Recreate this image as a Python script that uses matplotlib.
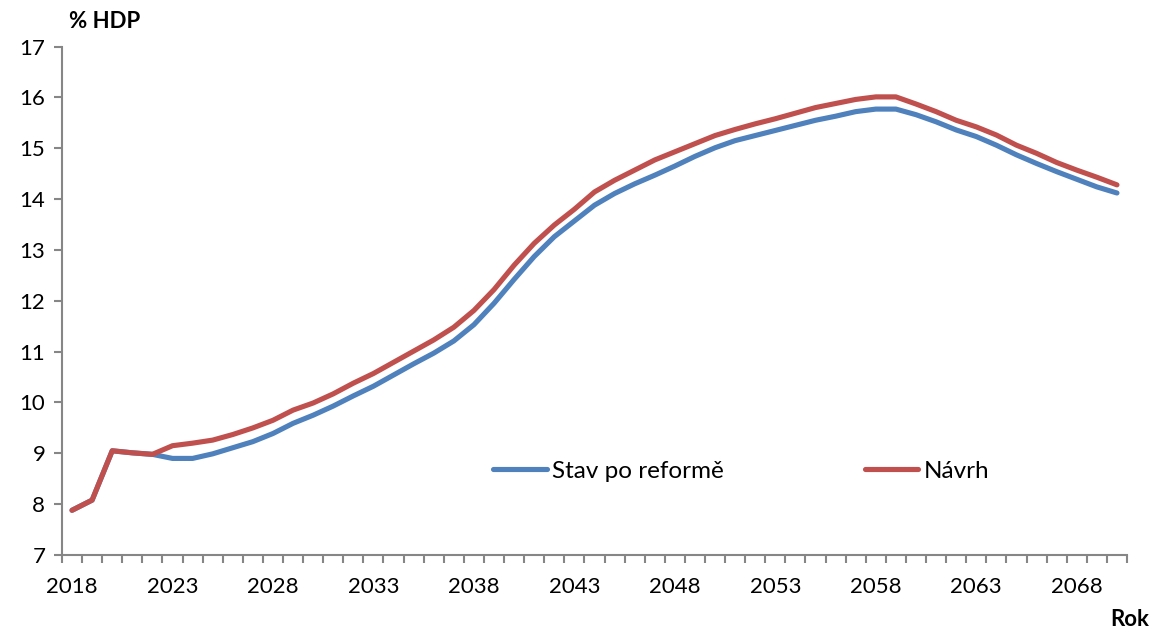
import numpy as np
import matplotlib.pyplot as plt

plt.rcParams['font.family'] = ['Lato', 'DejaVu Sans']

years = np.arange(2018, 2071)

# Stav po reformě (blue)
stav = [7.88, 8.08, 9.05, 9.01, 8.98, 8.90, 8.90, 8.99, 9.11, 9.23,
        9.39, 9.59, 9.75, 9.93, 10.13, 10.32, 10.54, 10.76, 10.97, 11.21,
        11.53, 11.95, 12.42, 12.87, 13.26, 13.57, 13.88, 14.11, 14.30, 14.47,
        14.65, 14.84, 15.01, 15.15, 15.25, 15.35, 15.45, 15.55, 15.63, 15.72,
        15.77, 15.77, 15.66, 15.52, 15.36, 15.23, 15.06, 14.87, 14.70, 14.54,
        14.39, 14.24, 14.12]

# Návrh (red)
navrh = [7.88, 8.08, 9.05, 9.01, 8.98, 9.15, 9.20, 9.26, 9.37, 9.50,
         9.65, 9.85, 9.99, 10.17, 10.38, 10.57, 10.79, 11.01, 11.23, 11.48,
         11.81, 12.22, 12.70, 13.13, 13.49, 13.80, 14.14, 14.37, 14.57, 14.77,
         14.93, 15.09, 15.25, 15.37, 15.48, 15.58, 15.69, 15.80, 15.88, 15.96,
         16.01, 16.01, 15.87, 15.72, 15.55, 15.42, 15.26, 15.06, 14.90, 14.72,
         14.57, 14.43, 14.28]

label_years = years[::5]

fig = plt.figure(figsize=(11.52, 6.29), dpi=100)
ax = fig.add_axes([0.0538, 0.1176, 0.9245, 0.8084])

l1, = ax.plot(years, stav, color='#4F81BD', lw=3.7, solid_capstyle='round', solid_joinstyle='round')
l2, = ax.plot(years, navrh, color='#C0504D', lw=3.7, solid_capstyle='round', solid_joinstyle='round')

ax.set_xlim(2017.5, 2070.5)
ax.set_ylim(7, 17)
ax.set_yticks(range(7, 18))
ax.set_xticks(label_years)
ax.set_xticklabels([str(y) for y in label_years])
ax.set_xticks(np.arange(2017.5, 2071, 1), minor=True)

for s in ['top', 'right']:
    ax.spines[s].set_visible(False)
for s in ['left', 'bottom']:
    ax.spines[s].set_color('#868686')
    ax.spines[s].set_linewidth(1.5)

ax.tick_params(axis='x', which='major', length=0, labelsize=16, pad=16)
ax.tick_params(axis='x', which='minor', length=6, width=1.5, color='#868686')
ax.tick_params(axis='y', length=6, width=1.5, color='#868686', labelsize=16, pad=6)

leg1 = ax.legend([l1], ['Stav po reformě'], loc='center left', bbox_to_anchor=(0.405, 0.165),
                 frameon=False, fontsize=17.5, handlelength=2.2, handletextpad=0.2, borderpad=0,
                 borderaxespad=0)
ax.add_artist(leg1)
ax.legend([l2], ['Návrh'], loc='center left', bbox_to_anchor=(0.754, 0.165),
          frameon=False, fontsize=17.5, handlelength=2.2, handletextpad=0.2, borderpad=0,
          borderaxespad=0)

fig.text(69 / 1152, 1 - 22 / 629, '% HDP', fontsize=16, fontweight='bold', va='center', ha='left')
fig.text(1149 / 1152, 1 - 620 / 629, 'Rok', fontsize=16, fontweight='bold', va='center', ha='right')

fig.savefig('out.png', dpi=100)
